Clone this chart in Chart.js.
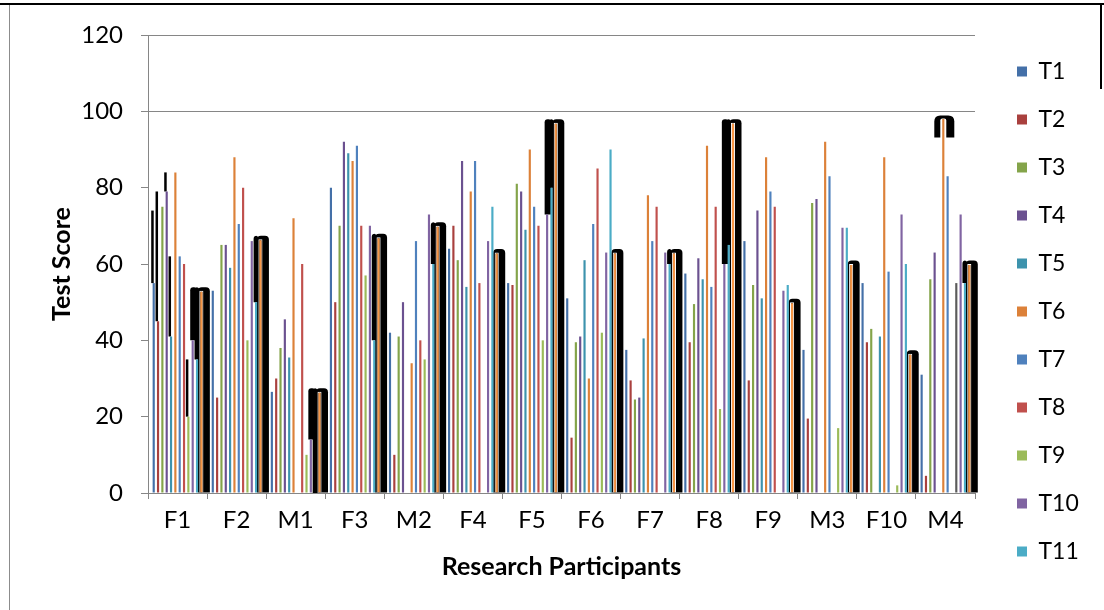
<!DOCTYPE html>
<html>
<head>
<meta charset="utf-8">
<script src="https://cdn.jsdelivr.net/npm/chart.js@4.4.0/dist/chart.umd.min.js"></script>
<style>
html,body{margin:0;padding:0;background:#fff;}
#wrap{position:relative;width:1104px;height:610px;overflow:hidden;}
#c{position:absolute;left:0;top:0;}
.fTop{position:absolute;left:0;top:3px;width:1104px;height:2px;background:#000;}
.fLeft{position:absolute;left:9px;top:5px;width:1px;height:605px;background:#8c8c8c;}
.fRight{position:absolute;left:1100px;top:3px;width:2px;height:86px;background:#000;}
</style>
</head>
<body>
<div id="wrap">
<canvas id="c" width="1104" height="610"></canvas>
<div class="fTop"></div><div class="fLeft"></div><div class="fRight"></div>
</div>
<script>
// ---- data ----
const categories = ['F1','F2','M1','F3','M2','F4','F5','F6','F7','F8','F9','M3','F10','M4'];
const seriesNames = ['T1','T2','T3','T4','T5','T6','T7','T8','T9','T10','T11','T12'];
const t1  = [55, 53, 26.5, 80, 42, 64, 55, 51, 37.5, 57.5, 66, 37.5, 55, 31];
const t2  = [45, 25, 30, 50, 10, 70, 54.5, 14.5, 29.5, 39.5, 29.5, 19.5, 39.5, 4.5];
const t3  = [75, 65, 38, 70, 41, 61, 81, 39.5, 24.5, 49.5, 54.5, 76, 43, 56];
const t4  = [79, 65, 45.5, 92, 50, 87, 79, 41, 25, 61.5, 74, 77, 0, 63];
const t5  = [41, 59, 35.5, 89, 0, 54, 69, 61, 40.5, 56, 51, 0, 41, 0];
const t6  = [84, 88, 72, 87, 34, 79, 90, 30, 78, 91, 88, 92, 88, 98];
const t7  = [62, 70.5, 0, 91, 66, 87, 75, 70.5, 66, 54, 79, 83, 58, 83];
const t8  = [60, 80, 60, 70, 40, 55, 70, 85, 75, 75, 75, 0, 0, 0];
const t9  = [20, 40, 10, 57, 35, 0, 40, 42, 0, 22, 0, 17, 2, 55];
const t10 = [40, 66, 14, 70, 73, 66, 73, 63, 63, 60, 53, 69.5, 73, 73];
const t11 = [35, 50, 0, 40, 60, 75, 80, 90, 60, 65, 54.5, 69.5, 60, 55];
const t12 = [53, 66.5, 26.5, 67, 70, 63, 97, 63, 63, 97, 50, 60, 36.5, 60];
const seriesValues = [t1,t2,t3,t4,t5,t6,t7,t8,t9,t10,t11,t12];
const yMin = 0, yMax = 120, yStep = 20;
// black scan smudges above some F1 bars: [category, series index, value reached]
const smudges = [['F1',0,74],['F1',1,79],['F1',3,84],['F1',4,62],['F1',8,35]];

// ---- styles ----
const colors = ['#4470a8','#a9403e','#84a44a','#6b5190','#3d93ad','#dc8139',
                '#4f81bd','#c0504d','#9bbb59','#8064a2','#4bacc6','#f79646'];
const FONT = "Lato, 'Open Sans', sans-serif";

const datasets = seriesValues.map((vals, i) => {
  const ds = {
    label: seriesNames[i],
    data: vals,
    backgroundColor: colors[i],
    borderWidth: 0,
    barPercentage: 0.5,
    categoryPercentage: 0.88
  };
  if (i === 8) {
    ds.backgroundColor = ctx => categories[ctx.dataIndex] === 'M4' ? '#5b5b5b' : colors[8];
  }
  if (i === 11) {
    ds.borderColor = '#ffffff';
    ds.borderWidth = 1;
    ds.barPercentage = 0.95;
  }
  return ds;
});

function roundTop(ctx, x, y, w, h, r) {
  ctx.beginPath();
  ctx.moveTo(x, y + h);
  ctx.lineTo(x, y + r);
  ctx.quadraticCurveTo(x, y, x + r, y);
  ctx.lineTo(x + w - r, y);
  ctx.quadraticCurveTo(x + w, y, x + w, y + r);
  ctx.lineTo(x + w, y + h);
  ctx.closePath();
  ctx.fill();
}

const blobPlugin = {
  id: 'blobs',
  beforeDatasetsDraw(chart) {
    const ctx = chart.ctx;
    const ys = chart.scales.y;
    const m12 = chart.getDatasetMeta(11).data;
    const m11 = chart.getDatasetMeta(10).data;
    const m10 = chart.getDatasetMeta(9).data;
    ctx.save();
    ctx.fillStyle = '#000';
    m12.forEach((b, i) => {
      const top = b.y - 3.5;
      const base = b.base;
      roundTop(ctx, b.x - 3.5, top, 12, base - top, 4);
      const b11 = m11[i], b10 = m10[i];
      if (b11.y > b.y + 2) {
        roundTop(ctx, b11.x - 2.5, top, (b.x - 2) - (b11.x - 2.5), b11.y - top, 3);
        if (b10.y > b.y + 2) {
          roundTop(ctx, b10.x - 2.5, top, (b11.x) - (b10.x - 2.5), b10.y - top, 3);
        }
      }
    });
    smudges.forEach(([cat, s, v]) => {
      const b = chart.getDatasetMeta(s).data[categories.indexOf(cat)];
      const yTop = ys.getPixelForValue(v);
      ctx.fillRect(b.x - 2.5, yTop, 2.5, b.y - yTop);
    });
    // cap on T6 of M4
    const m6 = chart.getDatasetMeta(5).data;
    const c = m6[categories.indexOf('M4')];
    roundTop(ctx, c.x - 9, c.y - 3.5, 20, 22, 6);
    ctx.fillStyle = '#fff';
    roundTop(ctx, c.x - 3, c.y - 0.5, 6, 19.5, 2);
    ctx.restore();
  }
};

const legendWidthPlugin = {
  id: 'legendWidth',
  afterInit(chart) {
    const lg = chart.legend;
    if (!lg || lg._patched) return;
    const orig = lg.fit;
    lg.fit = function () { orig.call(this); this.width = 100; };
    lg._patched = true;
  }
};

const GRID = '#868686';
new Chart(document.getElementById('c'), {
  type: 'bar',
  data: { labels: categories, datasets },
  plugins: [blobPlugin, legendWidthPlugin],
  options: {
    responsive: false,
    animation: false,
    devicePixelRatio: 1,
    layout: { padding: { top: 35, right: 12, bottom: 0, left: 0 } },
    plugins: {
      legend: {
        position: 'right',
        align: 'start',
        labels: {
          filter: item => item.datasetIndex < 11,
          boxWidth: 10,
          boxHeight: 10,
          padding: 25,
          color: '#000',
          font: { family: FONT, size: 23 }
        }
      },
      tooltip: { enabled: false }
    },
    scales: {
      x: {
        offset: true,
        grid: { display: true, drawOnChartArea: false, drawTicks: true, tickLength: 6, color: GRID, offset: true },
        border: { display: true, color: GRID, width: 1 },
        ticks: { color: '#000', font: { family: FONT, size: 24 }, padding: 7, maxRotation: 0 },
        title: { display: true, text: 'Research Participants', color: '#000',
                 font: { family: FONT, size: 25, weight: 'bold' }, padding: { top: 0, bottom: 28 } },
        afterFit: s => { s.height = 117; }
      },
      y: {
        min: yMin, max: yMax,
        ticks: { stepSize: yStep, color: '#000', font: { family: FONT, size: 24 }, padding: 18 },
        grid: {
          color: ctx => (ctx.tick && ctx.tick.value >= 100) ? GRID : 'rgba(0,0,0,0)',
          tickColor: GRID, tickLength: 7, drawTicks: true
        },
        border: { display: true, color: GRID, width: 1 },
        title: { display: true, text: 'Test Score', color: '#000',
                 font: { family: FONT, size: 25, weight: 'bold' }, padding: { top: 47, bottom: 0 } },
        afterFit: s => { s.width = 148; }
      },
      spacer: {
        position: 'right',
        display: true,
        grid: { display: false },
        border: { display: false },
        ticks: { display: false },
        afterFit: s => { s.width = 17; }
      }
    }
  }
});
</script>
</body>
</html>
